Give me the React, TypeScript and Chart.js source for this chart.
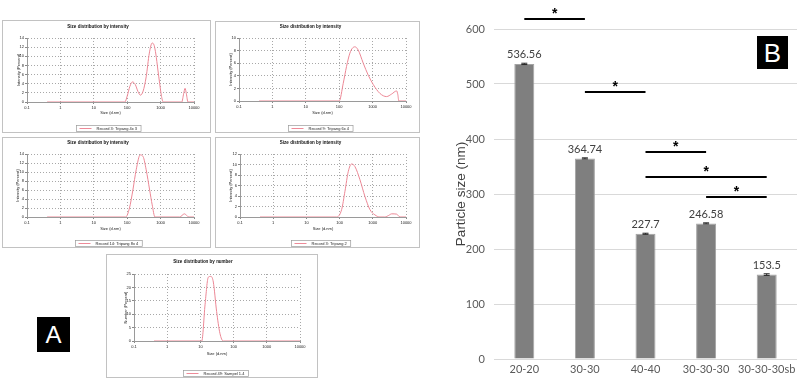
import React, { useEffect, useRef } from 'react';
import { Chart, registerables } from 'chart.js';

Chart.register(...registerables);

// ---------- Panel A data (size distributions) ----------
const sizeTicks = [0.1, 1, 10, 100, 1000, 10000];

const rec3Size = [0.4, 10, 85, 100, 120, 145, 175, 210, 250, 300, 370, 460, 560, 640, 720, 830, 940, 1050, 1200, 4300, 4900, 5400, 5900, 6600, 10000];
const rec3Intensity = [0, 0, 0, 1.3, 3.4, 4.4, 3.8, 2.3, 1.5, 2.4, 5.5, 10.7, 12.9, 12.4, 10.5, 7.0, 4.0, 1.5, 0, 0, 1.8, 3.0, 1.8, 0, 0];

const rec9Size = [0.4, 10, 100, 132, 166, 209, 250, 295, 370, 525, 740, 1050, 1660, 2630, 3700, 5250, 5700, 6100, 10000];
const rec9Intensity = [0, 0, 0, 2.8, 5.5, 7.6, 8.4, 8.6, 8.1, 6.0, 4.1, 2.6, 1.2, 0.7, 1.1, 1.6, 1.0, 0, 0];

const rec14Size = [0.4, 10, 90, 117, 148, 186, 245, 300, 370, 470, 560, 680, 3700, 5200, 7000, 10000];
const rec14Intensity = [0, 0, 0, 2, 6, 10.5, 13.8, 13.4, 10.5, 6, 2.7, 0, 0, 0.7, 0, 0];

const rec3bSize = [0.4, 10, 81, 115, 145, 183, 230, 290, 410, 580, 820, 1160, 1640, 2300, 3000, 3700, 5200, 6600, 10000];
const rec3bIntensity = [0, 0, 0, 1.4, 4.9, 8.7, 10.1, 9.6, 7.1, 3.9, 1.4, 0.4, 0, 0, 0.3, 0.6, 0.55, 0, 0];

const rec49Size = [0.4, 10, 11, 13.8, 17.3, 20.8, 24.5, 30.8, 38.7, 48.7, 10000];
const rec49Number = [0, 0, 0, 13.5, 23.8, 24.1, 22, 11, 2.9, 0, 0];

// ---------- Panel B data ----------
const categories = ['20-20', '30-30', '40-40', '30-30-30', '30-30-30sb'];
const particleSize = [536.56, 364.74, 227.7, 246.58, 153.5];
const particleError = [1.2, 1.0, 1.0, 1.0, 1.5];
const sizeAxisTicks = [0, 100, 200, 300, 400, 500, 600];
const sigFrom = [0, 1, 2, 2, 3];
const sigTo = [1, 2, 3, 4, 4];
const sigLevel = [618, 485, 376, 331, 295];
const sigMark = ['*', '*', '*', '*', '*'];

type Panel = {
  box: { x: number; y: number; w: number; h: number };
  area: { l: number; t: number; r: number; b: number };
  titleY: number;
  yTitleX: number;
  xTitleY: number;
  title: string;
  yTitle: string;
  legend: string;
  sizes: number[];
  values: number[];
  yMax: number;
  yStep: number;
};

const panels: Panel[] = [
  {
    box: { x: 2, y: 20, w: 209, h: 113 }, area: { l: 27, t: 38, r: 194, b: 102 },
    titleY: 26.5, yTitleX: 19.3, xTitleY: 113,
    title: 'Size distribution by intensity', yTitle: 'Intensity (Percent)', legend: 'Record 3: Tripang 4x 3',
    sizes: rec3Size, values: rec3Intensity, yMax: 14, yStep: 2,
  },
  {
    box: { x: 215, y: 21, w: 205, h: 112 }, area: { l: 239, t: 38, r: 406, b: 101 },
    titleY: 26.3, yTitleX: 230.7, xTitleY: 113.3,
    title: 'Size distribution by intensity', yTitle: 'Intensity (Percent)', legend: 'Record 9: Tripang 6x 4',
    sizes: rec9Size, values: rec9Intensity, yMax: 10, yStep: 2,
  },
  {
    box: { x: 2, y: 137, w: 209, h: 111 }, area: { l: 27, t: 154, r: 194, b: 217 },
    titleY: 142.3, yTitleX: 18.3, xTitleY: 229,
    title: 'Size distribution by intensity', yTitle: 'Intensity (Percent)', legend: 'Record 14: Tripang 8x 4',
    sizes: rec14Size, values: rec14Intensity, yMax: 14, yStep: 2,
  },
  {
    box: { x: 215, y: 137, w: 205, h: 111 }, area: { l: 240, t: 154, r: 406, b: 217 },
    titleY: 142.7, yTitleX: 230.7, xTitleY: 229,
    title: 'Size distribution by intensity', yTitle: 'Intensity (Percent)', legend: 'Record 3: Tripang 2',
    sizes: rec3bSize, values: rec3bIntensity, yMax: 12, yStep: 2,
  },
  {
    box: { x: 106, y: 254, w: 212, h: 124 }, area: { l: 134, t: 274, r: 300, b: 341 },
    titleY: 261.7, yTitleX: 126, xTitleY: 354,
    title: 'Size distribution by number', yTitle: 'Number (Percent)', legend: 'Record 49: Sampel 1.4',
    sizes: rec49Size, values: rec49Number, yMax: 25, yStep: 5,
  },
];

const SMALL_FONT = "Arimo, 'Liberation Sans', 'DejaVu Sans', sans-serif";
const B_FONT = "Lato, 'Liberation Sans', sans-serif";

const boxLegendPlugin = {
  id: 'boxLegend',
  afterDraw(chart: any) {
    const ctx = chart.ctx as CanvasRenderingContext2D;
    const text = chart.data.datasets[0].label as string;
    ctx.save();
    ctx.font = `4px ${SMALL_FONT}`;
    const tw = ctx.measureText(text).width;
    const lineLen = 12;
    const w = 3 + lineLen + 5 + tw + 4;
    const h = 6;
    const cx = (chart.chartArea.left + chart.chartArea.right) / 2 - 2;
    const cy = chart.height - 5;
    const x0 = Math.round(cx - w / 2) + 0.5;
    const y0 = Math.round(cy - h / 2) + 0.5;
    ctx.fillStyle = '#ffffff';
    ctx.fillRect(x0, y0, w, h);
    ctx.strokeStyle = '#9a9a9a';
    ctx.lineWidth = 0.7;
    ctx.strokeRect(x0, y0, w, h);
    ctx.strokeStyle = '#ee8a98';
    ctx.lineWidth = 1;
    ctx.beginPath();
    ctx.moveTo(x0 + 3, y0 + h / 2);
    ctx.lineTo(x0 + 3 + lineLen, y0 + h / 2);
    ctx.stroke();
    ctx.fillStyle = '#222';
    ctx.textBaseline = 'middle';
    ctx.textAlign = 'left';
    ctx.fillText(text, x0 + 3 + lineLen + 5, y0 + h / 2 + 0.3);
    ctx.restore();
  },
};

function SmallChart({ p }: { p: Panel }) {
  const ref = useRef<HTMLCanvasElement>(null);
  useEffect(() => {
    const { box, area } = p;
    const L = area.l - box.x;
    const T = area.t - box.y;
    const R = box.x + box.w - area.r;
    const B = box.y + box.h - area.b;
    const tFont = 4.5;
    const tLH = tFont * 1.2;
    const titleTop = Math.max(0, p.titleY - box.y - tLH / 2);
    const titleBottom = Math.max(0, T - tLH - titleTop);
    const aFont = 4;
    const aLH = aFont * 1.2;
    const yTitlePad = Math.max(0, p.yTitleX - box.x - aLH / 2);
    const xTitlePad = Math.max(0, box.y + box.h - p.xTitleY - aLH / 2);

    const chart = new Chart(ref.current as HTMLCanvasElement, {
      type: 'line',
      data: {
        datasets: [
          {
            label: p.legend,
            data: p.sizes.map((s, i) => ({ x: s, y: p.values[i] })),
            borderColor: '#ec8795',
            borderWidth: 1,
            pointRadius: 0,
            fill: false,
            cubicInterpolationMode: 'monotone',
          },
        ],
      },
      options: {
        responsive: false,
        animation: false,
        devicePixelRatio: 1,
        layout: { padding: { left: 0, right: R, top: 0, bottom: 0 } },
        plugins: {
          legend: { display: false },
          tooltip: { enabled: false },
          title: {
            display: true,
            text: p.title,
            color: '#111',
            font: { family: SMALL_FONT, size: tFont, weight: 'bold' },
            padding: { top: titleTop, bottom: titleBottom },
          },
        },
        scales: {
          x: {
            type: 'logarithmic',
            min: 0.1,
            max: 10000,
            afterBuildTicks: (s: any) => {
              s.ticks = sizeTicks.map((v) => ({ value: v }));
            },
            afterFit: (s: any) => {
              s.height = B;
            },
            ticks: {
              autoSkip: false,
              maxRotation: 0,
              padding: 1,
              color: '#222',
              font: { family: SMALL_FONT, size: aFont },
              callback: (v: any) => String(v),
            },
            grid: { color: '#a8a8a8', lineWidth: 1, tickLength: 2, tickColor: '#888' },
            border: { dash: [1, 2], color: '#9a9a9a', width: 1 },
            title: {
              display: true,
              text: 'Size (d.nm)',
              color: '#222',
              font: { family: SMALL_FONT, size: aFont },
              padding: { top: 0, bottom: xTitlePad },
            },
          },
          y: {
            min: 0,
            max: p.yMax,
            afterFit: (s: any) => {
              s.width = L;
            },
            ticks: {
              stepSize: p.yStep,
              autoSkip: false,
              padding: 1,
              color: '#222',
              font: { family: SMALL_FONT, size: aFont },
            },
            grid: { color: '#a8a8a8', lineWidth: 1, tickLength: 2, tickColor: '#888' },
            border: { dash: [1, 2], color: '#9a9a9a', width: 1 },
            title: {
              display: true,
              text: p.yTitle,
              color: '#222',
              font: { family: SMALL_FONT, size: aFont },
              padding: { top: yTitlePad, bottom: 0 },
            },
          },
        },
      } as any,
      plugins: [boxLegendPlugin],
    });
    return () => chart.destroy();
  }, [p]);

  return (
    <>
      <canvas
        ref={ref}
        width={p.box.w}
        height={p.box.h}
        style={{ position: 'absolute', left: p.box.x, top: p.box.y, width: p.box.w, height: p.box.h }}
      />
      <div
        style={{
          position: 'absolute',
          left: p.box.x,
          top: p.box.y,
          width: p.box.w,
          height: p.box.h,
          border: '1px solid #c2c2c2',
          boxSizing: 'border-box',
          pointerEvents: 'none',
        }}
      />
    </>
  );
}

const barAnnotPlugin = {
  id: 'barAnnot',
  afterDatasetsDraw(chart: any) {
    const ctx = chart.ctx as CanvasRenderingContext2D;
    const xs = chart.scales.x;
    const ys = chart.scales.y;
    const meta = chart.getDatasetMeta(0);
    ctx.save();
    meta.data.forEach((bar: any, i: number) => {
      const v = particleSize[i];
      const e = particleError[i];
      const yTop = ys.getPixelForValue(v + e);
      const yBot = ys.getPixelForValue(v - e);
      ctx.strokeStyle = '#262626';
      ctx.lineWidth = 1;
      ctx.beginPath();
      ctx.moveTo(bar.x, yTop);
      ctx.lineTo(bar.x, yBot);
      ctx.moveTo(bar.x - 3, yTop);
      ctx.lineTo(bar.x + 3, yTop);
      ctx.moveTo(bar.x - 3, yBot);
      ctx.lineTo(bar.x + 3, yBot);
      ctx.stroke();
      ctx.fillStyle = '#404040';
      ctx.font = `11px ${B_FONT}`;
      ctx.textAlign = 'center';
      ctx.textBaseline = 'middle';
      ctx.fillText(String(v), bar.x, ys.getPixelForValue(v) - 9);
    });
    sigFrom.forEach((f, k) => {
      const x1 = xs.getPixelForValue(f);
      const x2 = xs.getPixelForValue(sigTo[k]);
      const yy = Math.round(ys.getPixelForValue(sigLevel[k]));
      ctx.strokeStyle = '#000';
      ctx.lineWidth = 2;
      ctx.beginPath();
      ctx.moveTo(x1, yy);
      ctx.lineTo(x2, yy);
      ctx.stroke();
      ctx.fillStyle = '#000';
      ctx.font = `bold 14px 'Liberation Sans', Arial, sans-serif`;
      ctx.textAlign = 'center';
      ctx.textBaseline = 'alphabetic';
      ctx.fillText(sigMark[k], (x1 + x2) / 2, yy - 1);
    });
    ctx.restore();
  },
};

function BarPanel() {
  const ref = useRef<HTMLCanvasElement>(null);
  useEffect(() => {
    const chart = new Chart(ref.current as HTMLCanvasElement, {
      type: 'bar',
      data: {
        labels: categories,
        datasets: [
          {
            data: particleSize,
            backgroundColor: '#7f7f7f',
            borderColor: '#a3a3a3',
            borderWidth: 1,
            barPercentage: 0.33,
            categoryPercentage: 1,
          },
        ],
      },
      options: {
        responsive: false,
        animation: false,
        devicePixelRatio: 1,
        layout: { padding: { top: 29, right: 3, left: 0, bottom: 0 } },
        plugins: { legend: { display: false }, tooltip: { enabled: false } },
        scales: {
          x: {
            grid: { display: false, drawTicks: false },
            border: { display: false },
            afterFit: (s: any) => {
              s.height = 20;
            },
            ticks: { color: '#595959', font: { family: B_FONT, size: 11 }, padding: 4, maxRotation: 0, autoSkip: false },
          },
          y: {
            min: 0,
            max: 600,
            afterBuildTicks: (s: any) => {
              s.ticks = sizeAxisTicks.map((v) => ({ value: v }));
            },
            afterFit: (s: any) => {
              s.width = 54;
            },
            ticks: { color: '#595959', font: { family: B_FONT, size: 11 }, padding: 9 },
            grid: { color: '#d9d9d9', lineWidth: 1, drawTicks: false },
            border: { display: false },
            title: {
              display: true,
              text: 'Particle size (nm)',
              color: '#404040',
              font: { family: "'Liberation Sans', Arial, sans-serif", size: 13.5 },
              padding: { top: 13, bottom: 0 },
            },
          },
        },
      } as any,
      plugins: [barAnnotPlugin],
    });
    return () => chart.destroy();
  }, []);
  return (
    <canvas
      ref={ref}
      width={360}
      height={379}
      style={{ position: 'absolute', left: 440, top: 0, width: 360, height: 379 }}
    />
  );
}

const labelStyle = (left: number, top: number, w: number, h: number, size: number): React.CSSProperties => ({
  position: 'absolute',
  left,
  top,
  width: w,
  height: h,
  background: '#000',
  color: '#fff',
  fontFamily: "'Liberation Sans', Arial, sans-serif",
  fontSize: size,
  display: 'flex',
  alignItems: 'center',
  justifyContent: 'center',
  lineHeight: 1,
});

export default function App() {
  return (
    <div style={{ position: 'absolute', left: 0, top: 0, width: 800, height: 379, overflow: 'hidden', background: '#fff' }}>
      {panels.map((p, i) => (
        <SmallChart key={i} p={p} />
      ))}
      <BarPanel />
      <div style={labelStyle(37, 317, 33, 35, 24)}>A</div>
      <div style={labelStyle(757, 36, 31, 33, 26)}>B</div>
    </div>
  );
}
